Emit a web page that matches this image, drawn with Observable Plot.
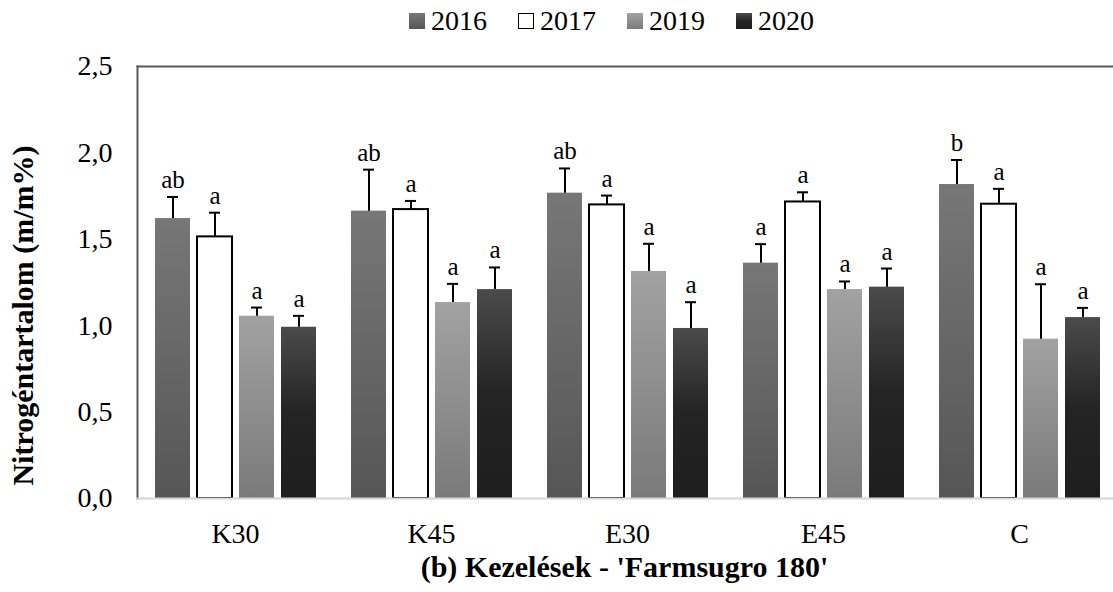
<!DOCTYPE html>
<html>
<head>
<meta charset="utf-8">
<script src="https://cdn.jsdelivr.net/npm/d3@7"></script>
<script src="https://cdn.jsdelivr.net/npm/@observablehq/plot@0.6"></script>
<style>
  html, body { margin: 0; padding: 0; background: #fff; overflow: hidden; }
  #legend { box-sizing: border-box; height: 40px; padding-top: 2px; padding-left: 409px; display: flex; align-items: center;
    font-family: 'Liberation Serif', 'Times New Roman', serif; font-size: 28px; line-height: 28px; color: #000; }
  .item { display: flex; align-items: center; margin-right: 31px; }
  .sw { width: 16px; height: 16px; margin-right: 6px; box-sizing: border-box; }
</style>
</head>
<body>
<div id="legend"></div>
<div id="chart"></div>
<script>
// ---- data ----
const groups = ["K30", "K45", "E30", "E45", "C"];
const years = ["2016", "2017", "2019", "2020"];
const mean2016 = [1.62, 1.663, 1.767, 1.362, 1.817];
const mean2017 = [1.514, 1.672, 1.699, 1.716, 1.703];
const mean2019 = [1.055, 1.134, 1.314, 1.209, 0.922];
const mean2020 = [0.991, 1.209, 0.984, 1.223, 1.047];
const err2016 = [0.125, 0.24, 0.143, 0.11, 0.142];
const err2017 = [0.14, 0.05, 0.054, 0.056, 0.089];
const err2019 = [0.05, 0.108, 0.16, 0.047, 0.318];
const err2020 = [0.066, 0.128, 0.152, 0.108, 0.056];
const letters2016 = ["ab", "ab", "ab", "a", "b"];
const letters2017 = ["a", "a", "a", "a", "a"];
const letters2019 = ["a", "a", "a", "a", "a"];
const letters2020 = ["a", "a", "a", "a", "a"];
const yTicks = [0, 0.5, 1.0, 1.5, 2.0, 2.5];
const yTitle = "Nitrogéntartalom (m/m%)";
const xTitle = "(b) Kezelések - 'Farmsugro 180'";

const means = {"2016": mean2016, "2017": mean2017, "2019": mean2019, "2020": mean2020};
const errs = {"2016": err2016, "2017": err2017, "2019": err2019, "2020": err2020};
const letters = {"2016": letters2016, "2017": letters2017, "2019": letters2019, "2020": letters2020};

const data = [];
groups.forEach((g, i) => years.forEach(yr => {
  data.push({group: g, year: yr, value: means[yr][i], upper: means[yr][i] + errs[yr][i], letter: letters[yr][i]});
}));

// ---- styles ----
const grads = {
  "2016": [["0%", "#777777"], ["100%", "#565656"]],
  "2019": [["0%", "#a2a2a2"], ["100%", "#7a7a7a"]],
  "2020": [["0%", "#4b4b4b"], ["50%", "#242424"], ["100%", "#1e1e1e"]]
};
const fills = {"2016": "url(#g2016)", "2017": "#ffffff", "2019": "url(#g2019)", "2020": "url(#g2020)"};
const font = "'Liberation Serif', 'Times New Roman', serif";

// ---- legend ----
const legend = d3.select("#legend");
years.forEach(yr => {
  const it = legend.append("div").attr("class", "item");
  const sw = it.append("div").attr("class", "sw");
  if (grads[yr]) sw.style("background", `linear-gradient(to bottom, ${grads[yr].map(s => s[1] + " " + s[0]).join(", ")})`);
  else sw.style("background", "#fff").style("border", "1.5px solid #000");
  it.append("span").text(yr);
});

// ---- chart ----
const chart = Plot.plot({
  width: 1113,
  height: 552,
  marginLeft: 135,
  marginRight: -5,
  marginTop: 26,
  marginBottom: 94,
  style: {fontFamily: font, fontSize: "28px", background: "#fff", color: "#000", overflow: "visible"},
  fx: {domain: groups, padding: 0, axis: "bottom", label: null, tickSize: 0, tickPadding: 25},
  x: {domain: years, paddingInner: 0.17, paddingOuter: 0.38, axis: null},
  y: {domain: [0, 2.5], ticks: yTicks, tickFormat: d => d.toFixed(1).replace(".", ","), tickSize: 0, tickPadding: 25, label: null},
  marks: [
    Plot.frame({facet: "super", anchor: "top", stroke: "#595959", strokeWidth: 2}),
    Plot.frame({facet: "super", anchor: "left", stroke: "#595959", strokeWidth: 2}),
    ...years.map(yr => Plot.barY(data.filter(d => d.year === yr), {
      fx: "group", x: "year", y: "value", fill: fills[yr],
      stroke: yr === "2017" ? "#000" : "none", strokeWidth: 2
    })),
    Plot.frame({facet: "super", anchor: "bottom", stroke: "#d2d5d9", strokeWidth: 2}),
    Plot.ruleX(data, {fx: "group", x: "year", y1: "value", y2: "upper", stroke: "#000", strokeWidth: 2}),
    Plot.tickY(data, {fx: "group", x: "year", y: "upper", stroke: "#000", strokeWidth: 2, insetLeft: 12, insetRight: 12}),
    Plot.text(data, {fx: "group", x: "year", y: "upper", text: "letter", lineAnchor: "bottom", dy: -9, fontSize: 25, fill: "#000"}),
    Plot.text([yTitle], {facet: "super", frameAnchor: "left", textAnchor: "middle", rotate: -90, dx: -105, dy: 33, lineAnchor: "bottom", fontWeight: "bold", fontSize: 30, fill: "#000"}),
    Plot.text([xTitle], {facet: "super", frameAnchor: "bottom", textAnchor: "middle", dx: -3, dy: 78, lineAnchor: "bottom", fontWeight: "bold", fontSize: 30, fill: "#000"})
  ]
});

const defs = d3.select(chart).insert("defs", ":first-child");
Object.entries(grads).forEach(([yr, stops]) => {
  const lg = defs.append("linearGradient").attr("id", "g" + yr).attr("x1", 0).attr("y1", 0).attr("x2", 0).attr("y2", 1);
  stops.forEach(([o, c]) => lg.append("stop").attr("offset", o).attr("stop-color", c));
});

document.getElementById("chart").appendChild(chart);
</script>
</body>
</html>
